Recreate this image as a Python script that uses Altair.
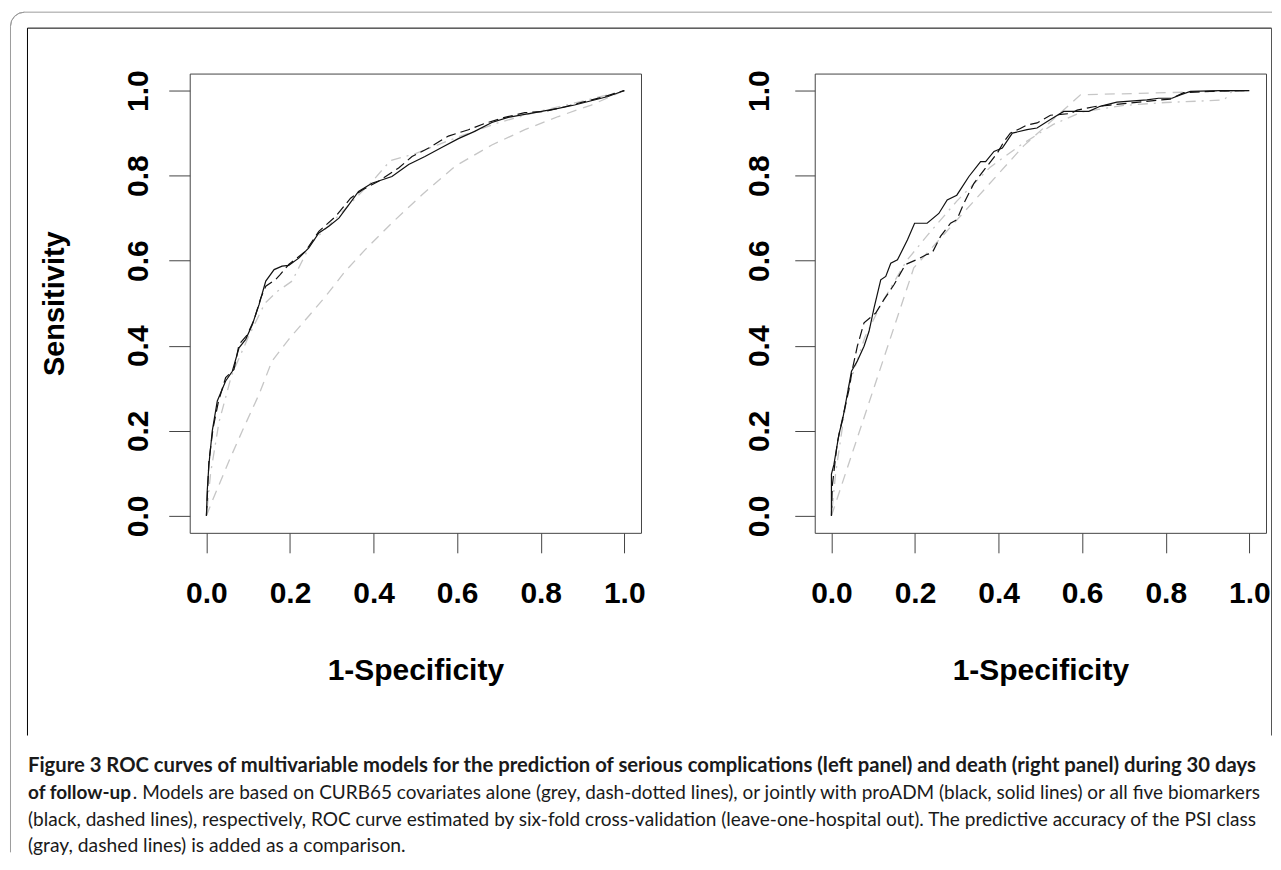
import altair as alt
import pandas as pd

# ---------------- data ----------------
TICKS = [0.0, 0.2, 0.4, 0.6, 0.8, 1.0]
DOMAIN = [-0.04, 1.04]

# Left panel: serious complications
L_ADM_X = [0, 0.002, 0.006, 0.014, 0.026, 0.046, 0.062, 0.078, 0.094, 0.11, 0.126, 0.142, 0.162, 0.181,
           0.197, 0.221, 0.245, 0.269, 0.293, 0.317, 0.341, 0.364, 0.396, 0.444, 0.484, 0.523, 0.563,
           0.603, 0.642, 0.683, 0.722, 0.762, 0.802, 0.842, 0.881, 0.921, 0.961, 0.997, 1.0]
L_ADM_Y = [0, 0.06, 0.121, 0.2, 0.27, 0.317, 0.34, 0.395, 0.415, 0.45, 0.497, 0.552, 0.579, 0.587,
           0.589, 0.606, 0.63, 0.665, 0.681, 0.70, 0.732, 0.763, 0.782, 0.798, 0.826, 0.845, 0.866,
           0.887, 0.904, 0.925, 0.937, 0.944, 0.951, 0.958, 0.966, 0.976, 0.986, 0.999, 1.0]
L_ALL_X = [0, 0.006, 0.016, 0.029, 0.046, 0.066, 0.078, 0.098, 0.114, 0.13, 0.142, 0.166, 0.177, 0.197,
           0.237, 0.269, 0.309, 0.345, 0.374, 0.412, 0.46, 0.492, 0.532, 0.579, 0.627, 0.667, 0.714,
           0.762, 0.81, 0.858, 0.905, 0.953, 1.0]
L_ALL_Y = [0, 0.129, 0.207, 0.27, 0.325, 0.344, 0.403, 0.426, 0.461, 0.512, 0.54, 0.556, 0.568, 0.591,
           0.622, 0.669, 0.704, 0.747, 0.767, 0.787, 0.818, 0.845, 0.865, 0.893, 0.908, 0.923, 0.937,
           0.948, 0.951, 0.962, 0.974, 0.986, 1.0]
L_CURB_X = [0, 0.01, 0.03, 0.06, 0.1, 0.14, 0.17, 0.205, 0.25, 0.3, 0.35, 0.4, 0.44, 0.5, 0.6, 0.7, 0.8, 0.9, 1.0]
L_CURB_Y = [0, 0.1, 0.22, 0.33, 0.42, 0.5, 0.528, 0.552, 0.64, 0.69, 0.74, 0.79, 0.835, 0.852, 0.89, 0.925,
            0.952, 0.975, 1.0]
L_PSI_X = [0, 0.014, 0.054, 0.086, 0.126, 0.157, 0.197, 0.245, 0.285, 0.332, 0.38, 0.444, 0.516, 0.595,
           0.683, 0.762, 0.842, 0.921, 1.0]
L_PSI_Y = [0, 0.035, 0.129, 0.2, 0.286, 0.364, 0.415, 0.47, 0.516, 0.575, 0.626, 0.689, 0.755, 0.822,
           0.872, 0.908, 0.939, 0.966, 1.0]

# Right panel: death
R_ADM_X = [0, 0, 0.006, 0.018, 0.026, 0.038, 0.048, 0.062, 0.078, 0.09, 0.102, 0.118, 0.13, 0.142, 0.158,
           0.182, 0.199, 0.229, 0.257, 0.277, 0.3, 0.329, 0.357, 0.369, 0.389, 0.409, 0.433, 0.468, 0.492,
           0.524, 0.556, 0.616, 0.643, 0.683, 0.723, 0.755, 0.783, 0.815, 0.835, 0.859, 0.93, 1.0]
R_ADM_Y = [0, 0.098, 0.121, 0.192, 0.223, 0.286, 0.34, 0.364, 0.399, 0.434, 0.489, 0.555, 0.563, 0.594,
           0.602, 0.649, 0.688, 0.688, 0.711, 0.743, 0.754, 0.798, 0.833, 0.833, 0.857, 0.865, 0.9, 0.908,
           0.912, 0.932, 0.951, 0.951, 0.963, 0.973, 0.976, 0.978, 0.982, 0.982, 0.99, 0.998, 1.0, 1.0]
R_ALL_X = [0, 0.002, 0.014, 0.026, 0.042, 0.05, 0.062, 0.078, 0.106, 0.126, 0.15, 0.177, 0.205, 0.229,
           0.241, 0.261, 0.285, 0.3, 0.317, 0.341, 0.365, 0.397, 0.413, 0.428, 0.452, 0.468, 0.492, 0.524,
           0.572, 0.588, 0.628, 0.667, 0.707, 0.747, 0.811, 0.843, 0.906, 1.0]
R_ALL_Y = [0, 0.07, 0.172, 0.227, 0.297, 0.344, 0.399, 0.454, 0.477, 0.509, 0.544, 0.591, 0.603, 0.615,
           0.618, 0.657, 0.688, 0.696, 0.735, 0.782, 0.813, 0.853, 0.88, 0.9, 0.911, 0.919, 0.924, 0.942,
           0.946, 0.954, 0.962, 0.966, 0.97, 0.974, 0.98, 0.995, 0.998, 1.0]
R_CURB_X = [0, 0.01, 0.04, 0.08, 0.12, 0.18, 0.23, 0.3, 0.38, 0.45, 0.53, 0.6, 0.7, 0.8, 0.9, 0.94, 0.96, 1.0]
R_CURB_Y = [0, 0.1, 0.3, 0.42, 0.5, 0.6, 0.66, 0.74, 0.82, 0.87, 0.92, 0.95, 0.965, 0.972, 0.976, 0.978,
            1.0, 1.0]
R_PSI_X = [0, 0.197, 0.46, 0.596, 1.0]
R_PSI_Y = [0, 0.583, 0.87, 0.99, 1.0]

CAPTION_L1 = ("Figure 3 ROC curves of multivariable models for the prediction of serious complications "
              "(left panel) and death (right panel) during 30 days")
CAPTION_L2_BOLD = "of follow-up"
CAPTION_L2 = (". Models are based on CURB65 covariates alone (grey, dash-dotted lines), or jointly with "
              "proADM (black, solid lines) or all five biomarkers")
CAPTION_L3 = ("(black, dashed lines), respectively, ROC curve estimated by six-fold cross-validation "
              "(leave-one-hospital out). The predictive accuracy of the PSI class")
CAPTION_L4 = "(gray, dashed lines) is added as a comparison."

# ---------------- styling ----------------
FONT = "Liberation Sans"
CAP_FONT = "Lato"
GRAY = "#c6c6c6"
BLACK = "#111111"
W, H = 452, 460
OX, OY = 188, 72  # page position of the left plot box


def frame(xs, ys):
    assert len(xs) == len(ys)
    return pd.DataFrame({"fpr": xs, "tpr": ys, "i": list(range(len(xs)))})


def x_axis():
    return alt.Axis(values=TICKS, format=".1f", domain=False, grid=False, tickSize=20,
                    tickColor="#444", tickWidth=1, labelFont=FONT, labelFontSize=30,
                    labelFontWeight="bold", labelColor="black", labelPadding=50,
                    labelBaseline="alphabetic", labelFlush=False, labelOverlap=False,
                    labelBound=False, titleFont=FONT, titleFontSize=30, titleFontWeight="bold",
                    titleColor="black", titleBaseline="alphabetic", titleY=147)


def y_axis(tick, pad):
    return alt.Axis(values=TICKS, format=".1f", domain=False, grid=False, tickSize=tick,
                    tickColor="#444", tickWidth=1, labelFont=FONT, labelFontSize=30,
                    labelFontWeight="bold", labelColor="black", labelPadding=pad, labelAngle=270,
                    labelAlign="center", labelBaseline="alphabetic", labelFlush=False,
                    labelOverlap=False, labelBound=False, titleFont=FONT, titleFontSize=29,
                    titleFontWeight="bold", titleColor="black", titleAngle=270,
                    titleBaseline="alphabetic", titleAlign="center", titleX=-126, titleY=H / 2)


def line(xs, ys, color, dash, sw, yaxis, ytitle):
    m = dict(color=color, strokeWidth=sw)
    if dash:
        m["strokeDash"] = dash
    sc = alt.Scale(domain=DOMAIN, nice=False, zero=False)
    return alt.Chart(frame(xs, ys)).mark_line(**m).encode(
        x=alt.X("fpr:Q", scale=sc, axis=x_axis(), title="1-Specificity"),
        y=alt.Y("tpr:Q", scale=sc, axis=yaxis, title=ytitle),
        order=alt.Order("i:Q"),
    )


one = pd.DataFrame({"k": [0]})


def px(v):
    return v - OX


def py(v):
    return v - OY


RIGHT_EDGE = 1272
BORDER = "#9c9c9c"
outer_top = alt.Chart(one).mark_rule(color=BORDER, strokeWidth=1).encode(
    x=alt.value(px(22.5)), x2=alt.value(px(RIGHT_EDGE)), y=alt.value(py(10.5)))
outer_left = alt.Chart(one).mark_rule(color=BORDER, strokeWidth=1).encode(
    x=alt.value(px(8.5)), y=alt.value(py(24.5)), y2=alt.value(py(852)))
outer_corner = alt.Chart(one).mark_arc(
    stroke=BORDER, strokeWidth=1, fillOpacity=0, innerRadius=14, outerRadius=14,
    theta=4.7124, theta2=6.2832).encode(x=alt.value(px(22.5)), y=alt.value(py(24.5)))

inner_top = alt.Chart(one).mark_rule(color="black", strokeWidth=1).encode(
    x=alt.value(px(25.5)), x2=alt.value(px(RIGHT_EDGE - 0.5)), y=alt.value(py(26.5)))
inner_left = alt.Chart(one).mark_rule(color="black", strokeWidth=1).encode(
    x=alt.value(px(25.5)), y=alt.value(py(26.5)), y2=alt.value(py(735)))
inner_right = alt.Chart(one).mark_rule(color="#555", strokeWidth=1).encode(
    x=alt.value(px(RIGHT_EDGE - 0.5)), y=alt.value(py(26.5)), y2=alt.value(py(735)))


def caption(text, x, y, bold, size):
    return alt.Chart(one).mark_text(
        align="left", baseline="alphabetic", font=CAP_FONT, fontSize=size,
        fontWeight="bold" if bold else "normal", color="#1a1a1a").encode(
        x=alt.value(px(x)), y=alt.value(py(y)), text=alt.value(text))


captions = [
    caption(CAPTION_L1, 26, 772, True, 20.3),
    caption(CAPTION_L2_BOLD, 26, 799, True, 19),
    caption(CAPTION_L2, 131, 799, False, 19),
    caption(CAPTION_L3, 26, 826, False, 19.1),
    caption(CAPTION_L4, 26, 852, False, 19.3),
]

left_y = y_axis(21, 21)
right_y = y_axis(20, 26)

left = alt.layer(
    outer_top, outer_left, outer_corner, inner_top, inner_left, inner_right, *captions,
    line(L_PSI_X, L_PSI_Y, GRAY, [10, 7], 1.3, left_y, "Sensitivity"),
    line(L_CURB_X, L_CURB_Y, GRAY, [2, 6, 10, 6], 1.3, left_y, "Sensitivity"),
    line(L_ALL_X, L_ALL_Y, BLACK, [10, 5], 1.2, left_y, "Sensitivity"),
    line(L_ADM_X, L_ADM_Y, BLACK, None, 1.2, left_y, "Sensitivity"),
).properties(width=W, height=H)

right = alt.layer(
    line(R_PSI_X, R_PSI_Y, GRAY, [10, 7], 1.3, right_y, None),
    line(R_CURB_X, R_CURB_Y, GRAY, [2, 6, 10, 6], 1.3, right_y, None),
    line(R_ALL_X, R_ALL_Y, BLACK, [10, 5], 1.2, right_y, None),
    line(R_ADM_X, R_ADM_Y, BLACK, None, 1.2, right_y, None),
).properties(width=W, height=H)

chart = alt.hconcat(left, right, spacing=174, bounds="flush").properties(
    padding={"left": 0, "top": 1, "right": 0, "bottom": 0}
).configure_view(stroke="#444", strokeWidth=1)

chart.save("out.html", embed_options={"renderer": "svg", "actions": False})
